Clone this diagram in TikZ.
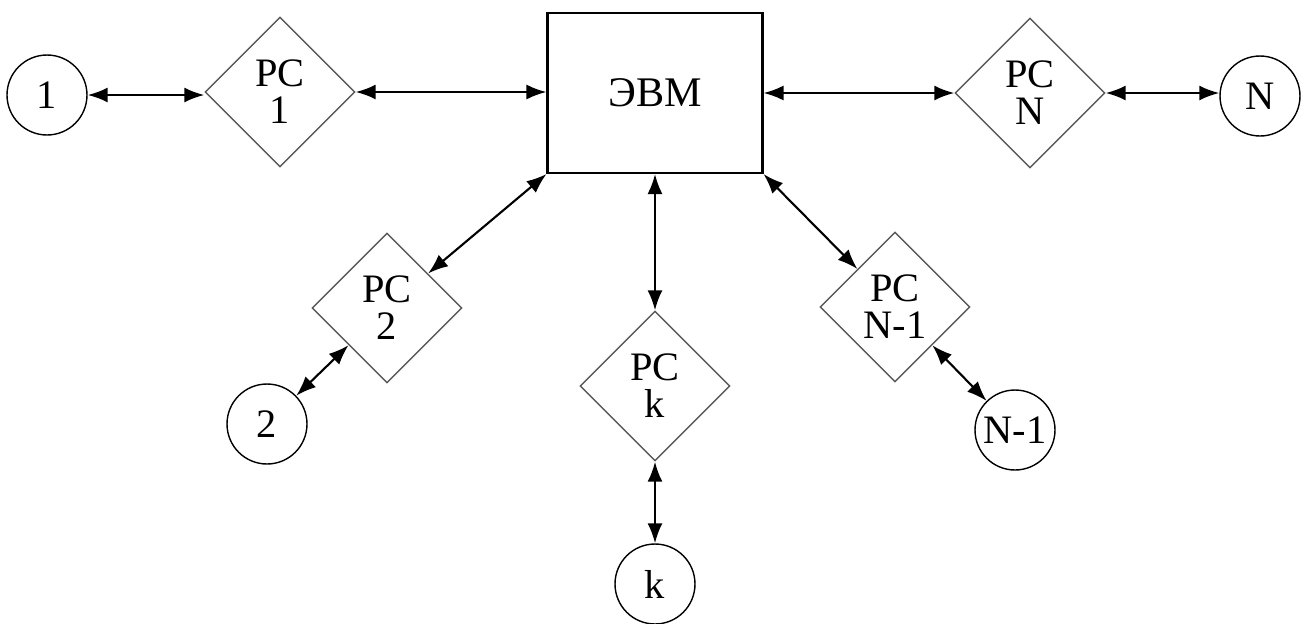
\documentclass[tikz,border=0pt]{standalone}
\usepackage{fontspec}
\setmainfont{Liberation Serif}
\usetikzlibrary{arrows.meta,shapes.geometric}

\begin{document}
\begin{tikzpicture}[x=0.02cm, y=-0.02cm]

\tikzstyle{rs}=[diamond, draw=black!65, thick, minimum width=3cm, minimum height=3cm, inner sep=0pt, align=center, font=\fontsize{23}{21}\selectfont]
\tikzstyle{term}=[circle, draw, thick, minimum size=1.6cm, inner sep=0pt, font=\fontsize{23}{21}\selectfont]
\tikzstyle{evm}=[rectangle, draw, very thick, minimum width=4.3cm, minimum height=3.2cm, font=\fontsize{24}{21}\selectfont]
\tikzstyle{biarrow}=[{Latex[length=0.4cm,width=0.3cm]}-{Latex[length=0.4cm,width=0.3cm]}, very thick]

\useasboundingbox (0,0) rectangle (1306,623);

\node (EVM) [evm] at (655,93) {ЭВМ};

\node (RC1) [rs] at (280,92) {PC\\1};
\node (RCN) [rs] at (1030,93) {PC\\N};
\node (RC2) [rs] at (387,308) {PC\\2};
\node (RCk) [rs] at (655,386) {PC\\k};
\node (RCN1) [rs] at (895,307) {PC\\N-1};

\node (T1) [term] at (47,95) {1};
\node (TN) [term] at (1260,96) {N};
\node (T2) [term] at (267,424) {2};
\node (Tk) [term] at (655,584) {k};
\node (TN1) [term] at (1015,430) {N-1};

\draw [biarrow] (T1) -- (T1 -| RC1.west);
\draw [biarrow] (RC1) -- (RC1 -| EVM.west);
\draw [biarrow] (RCN -| EVM.east) -- (RCN);
\draw [biarrow] (RCN.east) -- (RCN -| TN.west);
\draw [biarrow] (EVM.south west) -- (RC2);
\draw [biarrow] (EVM.south) -- (RCk);
\draw [biarrow] (EVM.south east) -- (RCN1);
\draw [biarrow] (RC2) -- (T2);
\draw [biarrow] (RCk) -- (Tk);
\draw [biarrow] (RCN1) -- (TN1);

\end{tikzpicture}
\end{document}
